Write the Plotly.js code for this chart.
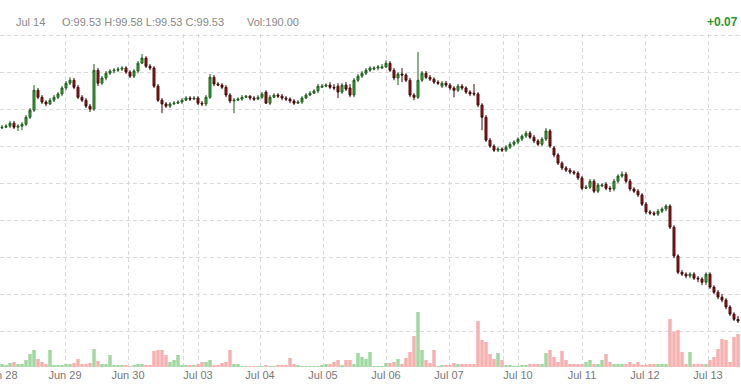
<!DOCTYPE html>
<html>
<head>
<meta charset="utf-8">
<script src="https://cdn.plot.ly/plotly-3.0.1.min.js"></script>
<style>
html,body{margin:0;padding:0;background:#fff;}
#chart{width:741px;height:390px;}
</style>
</head>
<body>
<div id="chart"></div>
<script>
// candle index (one bar per period)
const openP = [100.049,100.051,100.054,100.062,100.051,100.054,100.059,100.078,100.097,100.151,
100.132,100.119,100.114,100.124,100.132,100.141,100.157,100.170,100.178,100.159,
100.132,100.124,100.108,100.100,100.205,100.170,100.184,100.197,100.203,100.205,
100.208,100.211,100.200,100.189,100.203,100.224,100.238,100.216,100.211,100.162,
100.124,100.114,100.108,100.114,100.116,100.119,100.124,100.130,100.127,100.130,
100.116,100.114,100.132,100.186,100.168,100.165,100.159,100.138,100.122,100.124,
100.127,100.132,100.135,100.130,100.127,100.132,100.146,100.116,100.132,100.138,
100.135,100.130,100.127,100.122,100.116,100.119,100.130,100.138,100.143,100.149,
100.159,100.162,100.165,100.159,100.162,100.146,100.165,100.157,100.138,100.178,
100.189,100.197,100.205,100.208,100.211,100.211,100.214,100.224,100.205,100.184,
100.195,100.192,100.178,100.138,100.132,100.178,100.197,100.186,100.181,100.173,
100.162,100.170,100.165,100.157,100.151,100.162,100.157,100.146,100.143,100.141,
100.111,100.078,100.016,100.000,99.989,99.992,99.989,99.997,100.005,100.011,
100.019,100.027,100.035,100.024,100.014,100.005,100.019,100.041,99.995,99.976,
99.954,99.941,99.935,99.930,99.927,99.914,99.886,99.889,99.905,99.878,
99.892,99.897,99.886,99.884,99.905,99.919,99.924,99.905,99.884,99.878,
99.868,99.843,99.822,99.819,99.816,99.824,99.830,99.838,99.781,99.703,
99.659,99.654,99.649,99.654,99.643,99.641,99.632,99.654,99.619,99.605,
99.592,99.584,99.565,99.546,99.532];

const highP = [100.057,100.059,100.068,100.068,100.059,100.065,100.084,100.103,100.165,100.157,
100.138,100.124,100.130,100.138,100.146,100.162,100.176,100.186,100.184,100.165,
100.138,100.130,100.114,100.222,100.211,100.189,100.203,100.208,100.211,100.214,
100.216,100.216,100.205,100.208,100.230,100.249,100.243,100.222,100.216,100.168,
100.130,100.119,100.119,100.122,100.124,100.130,100.135,100.135,100.135,100.135,
100.122,100.138,100.195,100.192,100.173,100.170,100.165,100.143,100.130,100.132,
100.138,100.138,100.138,100.135,100.138,100.146,100.151,100.138,100.143,100.143,
100.141,100.135,100.132,100.127,100.124,100.135,100.143,100.149,100.154,100.168,
100.168,100.170,100.173,100.168,100.170,100.170,100.173,100.168,100.184,100.195,
100.203,100.211,100.216,100.216,100.219,100.222,100.232,100.230,100.211,100.200,
100.211,100.197,100.184,100.143,100.254,100.203,100.203,100.192,100.186,100.178,
100.176,100.176,100.170,100.162,100.168,100.168,100.162,100.151,100.168,100.146,
100.116,100.084,100.022,100.005,99.997,99.997,100.003,100.011,100.016,100.024,
100.032,100.041,100.041,100.030,100.019,100.024,100.049,100.046,100.000,99.981,
99.959,99.946,99.941,99.935,99.932,99.919,99.895,99.911,99.911,99.900,
99.900,99.903,99.892,99.911,99.924,99.932,99.930,99.911,99.889,99.884,
99.873,99.849,99.827,99.824,99.830,99.835,99.843,99.843,99.786,99.708,
99.665,99.659,99.659,99.659,99.649,99.646,99.659,99.659,99.624,99.611,
99.600,99.589,99.570,99.551,99.541];

const lowP = [100.046,100.049,100.049,100.046,100.041,100.043,100.054,100.073,100.092,100.127,
100.114,100.108,100.111,100.119,100.127,100.135,100.151,100.165,100.154,100.127,
100.119,100.103,100.092,100.095,100.162,100.165,100.178,100.192,100.197,100.200,
100.203,100.195,100.184,100.184,100.197,100.222,100.211,100.205,100.157,100.119,
100.089,100.103,100.103,100.111,100.114,100.114,100.122,100.122,100.124,100.111,
100.108,100.108,100.127,100.162,100.162,100.154,100.132,100.116,100.089,100.122,
100.122,100.130,100.124,100.122,100.124,100.127,100.114,100.111,100.130,100.130,
100.124,100.122,100.116,100.111,100.114,100.114,100.127,100.135,100.141,100.143,
100.157,100.159,100.154,100.151,100.130,100.141,100.149,100.132,100.132,100.173,
100.184,100.192,100.200,100.205,100.205,100.208,100.211,100.200,100.178,100.165,
100.173,100.173,100.132,100.124,100.127,100.173,100.181,100.176,100.168,100.165,
100.157,100.159,100.151,100.132,100.146,100.151,100.141,100.135,100.135,100.105,
100.043,100.011,99.995,99.984,99.984,99.984,99.984,99.992,100.000,100.005,
100.014,100.022,100.019,100.008,100.000,100.000,100.014,99.995,99.970,99.949,
99.935,99.930,99.924,99.922,99.908,99.881,99.884,99.884,99.873,99.873,
99.889,99.881,99.876,99.878,99.900,99.914,99.900,99.878,99.873,99.862,
99.838,99.816,99.814,99.811,99.811,99.819,99.824,99.776,99.697,99.654,
99.649,99.643,99.643,99.638,99.632,99.624,99.624,99.614,99.600,99.586,
99.578,99.559,99.541,99.527,99.522];

const closeP = [100.051,100.054,100.062,100.051,100.054,100.059,100.078,100.097,100.151,100.132,
100.119,100.114,100.124,100.132,100.141,100.157,100.170,100.178,100.159,100.132,
100.124,100.108,100.100,100.205,100.170,100.184,100.197,100.203,100.205,100.208,
100.211,100.200,100.189,100.203,100.224,100.238,100.216,100.211,100.162,100.124,
100.114,100.108,100.114,100.116,100.119,100.124,100.130,100.127,100.130,100.116,
100.114,100.132,100.186,100.168,100.165,100.159,100.138,100.122,100.124,100.127,
100.132,100.135,100.130,100.127,100.132,100.141,100.116,100.132,100.138,100.135,
100.130,100.127,100.122,100.116,100.119,100.130,100.138,100.143,100.149,100.162,
100.162,100.165,100.159,100.157,100.146,100.165,100.154,100.138,100.178,100.189,
100.197,100.205,100.211,100.211,100.214,100.214,100.224,100.205,100.184,100.195,
100.192,100.178,100.138,100.132,100.178,100.197,100.186,100.181,100.173,100.170,
100.170,100.165,100.157,100.151,100.162,100.157,100.146,100.141,100.141,100.111,
100.078,100.016,100.000,99.989,99.992,99.989,99.997,100.005,100.011,100.019,
100.027,100.035,100.024,100.014,100.005,100.019,100.041,100.000,99.976,99.954,
99.941,99.935,99.930,99.927,99.914,99.886,99.889,99.905,99.878,99.895,
99.895,99.886,99.884,99.905,99.919,99.924,99.905,99.884,99.878,99.868,
99.843,99.822,99.819,99.816,99.824,99.830,99.838,99.781,99.703,99.659,
99.654,99.649,99.654,99.643,99.641,99.632,99.654,99.619,99.605,99.592,
99.584,99.565,99.546,99.532,99.527];

const volume = [60,40,80,100,60,60,140,260,340,160,
100,60,340,40,40,40,60,60,80,160,
60,60,80,360,120,60,60,240,40,40,
40,40,20,40,60,60,40,40,320,340,
340,240,100,140,240,40,40,40,40,60,
100,100,140,40,40,80,100,340,60,60,
20,20,20,20,20,20,40,20,20,40,
40,40,180,60,40,20,20,20,20,20,
40,60,60,100,140,40,140,140,60,280,
200,160,300,20,20,20,80,80,100,160,
60,180,300,620,1100,340,140,80,340,20,
40,40,40,80,60,60,60,60,60,920,
540,500,260,160,280,140,40,40,20,20,
40,40,60,60,60,60,280,340,200,100,
320,140,60,60,60,60,100,140,60,60,
140,260,100,60,60,60,60,100,60,100,
40,40,60,60,60,60,60,960,700,740,
300,60,300,60,60,60,60,140,200,360,
560,540,100,600,660];

// session boundaries on the candle-index axis and their labels
const tickPositions = [-0.25, 15.75, 31.5, 45.25, 49, 64.5, 80.25, 96, 111.75, 125.25, 129, 145, 160.75, 176.5];
const tickLabels = ["Jun 28","Jun 29","Jun 30","","Jul 03","Jul 04","Jul 05","Jul 06","Jul 07","","Jul 10","Jul 11","Jul 12","Jul 13"];

const header = {date:"Jul 14", o:"99.53", h:"99.58", l:"99.53", c:"99.53", vol:"190.00", change:"+0.07"};

const idx = closeP.map((_, i) => i);
const volColors = closeP.map((c, i) => c >= openP[i] ? '#a2d9a2' : '#f7b1b1');

const traces = [
  {
    type: 'bar', x: idx, y: volume, yaxis: 'y2',
    marker: {color: volColors, line: {width: 0}},
    hoverinfo: 'skip', showlegend: false
  },
  {
    type: 'candlestick', x: idx,
    open: openP, high: highP, low: lowP, close: closeP,
    increasing: {line: {color: '#1d5c1d', width: 1}, fillcolor: '#2fb82f'},
    decreasing: {line: {color: '#4a0808', width: 1}, fillcolor: '#a51616'},
    whiskerwidth: 0,
    showlegend: false
  }
];

const layout = {
  width: 741, height: 390,
  margin: {l: 0, r: 0, t: 34, b: 23, pad: 0},
  paper_bgcolor: '#ffffff', plot_bgcolor: '#ffffff',
  font: {family: 'Liberation Sans, Arial, sans-serif', size: 11, color: '#777'},
  showlegend: false,
  bargap: 0.12,
  xaxis: {
    range: [-0.5, 184.75],
    rangeslider: {visible: false},
    tickmode: 'array', tickvals: tickPositions, ticktext: tickLabels,
    ticklabeloverflow: 'allow',
    showgrid: true, gridcolor: '#d9d9d9', griddash: '4px,3px', gridwidth: 1,
    zeroline: false, showline: false, ticks: '',
    tickfont: {size: 11, color: '#777'}
  },
  yaxis: {
    range: [99.403, 100.303],
    tick0: 99.5, dtick: 0.1,
    showgrid: true, gridcolor: '#d9d9d9', griddash: '4px,3px', gridwidth: 1,
    showticklabels: false, zeroline: false, showline: false, ticks: ''
  },
  yaxis2: {
    overlaying: 'y', range: [0, 6660], visible: false, showgrid: false, zeroline: false
  },
  annotations: [
    {xref: 'paper', yref: 'paper', x: 14/741, y: 1.036, xanchor: 'left', yanchor: 'middle',
     text: header.date, showarrow: false, font: {size: 11, color: '#888'}},
    {xref: 'paper', yref: 'paper', x: 60/741, y: 1.036, xanchor: 'left', yanchor: 'middle',
     text: 'O:' + header.o + ' H:' + header.h + ' L:' + header.l + ' C:' + header.c,
     showarrow: false, font: {size: 11, color: '#888'}},
    {xref: 'paper', yref: 'paper', x: 245/741, y: 1.036, xanchor: 'left', yanchor: 'middle',
     text: 'Vol:' + header.vol, showarrow: false, font: {size: 11, color: '#888'}},
    {xref: 'paper', yref: 'paper', x: 0.998, y: 1.036, xanchor: 'right', yanchor: 'middle',
     text: '<b>' + header.change + '</b>', showarrow: false, font: {size: 12, color: '#2a9a2a'}}
  ]
};

Plotly.newPlot('chart', traces, layout, {staticPlot: true, displayModeBar: false});
</script>
</body>
</html>
